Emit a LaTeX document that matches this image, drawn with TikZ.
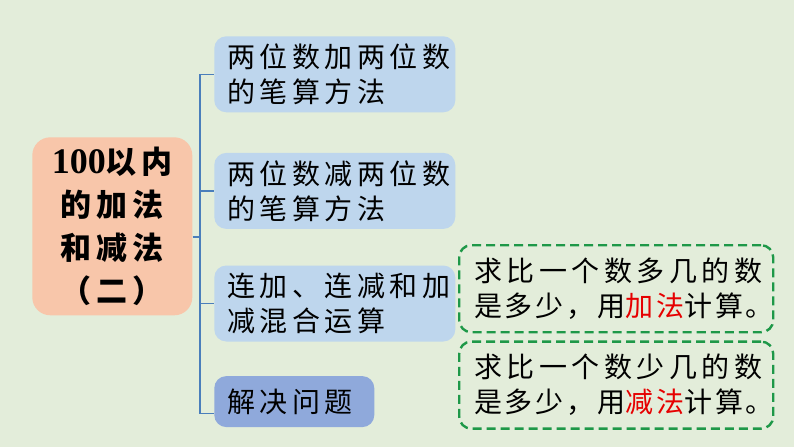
\documentclass[tikz,border=0pt]{standalone}
\usepackage{fontspec}
\usepackage{tikz}
\usetikzlibrary{positioning}
\newfontfamily\kai[LetterSpace=16]{Noto Sans CJK SC}
\newfontfamily\kaitight[LetterSpace=10]{Noto Sans CJK SC}
\newfontfamily\digits{Liberation Serif}
\definecolor{bggreen}{RGB}{227,237,218}
\definecolor{rootpeach}{RGB}{248,198,170}
\definecolor{leafblue}{RGB}{190,214,237}
\definecolor{leafdeep}{RGB}{143,169,219}
\definecolor{linkblue}{RGB}{74,126,187}
\definecolor{dashgreen}{RGB}{30,152,72}
\definecolor{hotred}{RGB}{230,0,0}

\begin{document}
\begin{tikzpicture}[x=1pt,y=-1pt,semithick]
  \tikzstyle{leaf}=[rounded corners=12pt,fill=leafblue,anchor=north west,
                    minimum width=241pt,minimum height=76pt,text width=215pt,
                    inner xsep=13pt,align=left,font=\kai\fontsize{28}{35}\selectfont]
  \tikzstyle{note}=[draw=dashgreen,line width=2.4pt,dash pattern=on 9pt off 5pt,
                    rounded corners=12pt,anchor=north west,minimum width=314pt,
                    minimum height=87pt,text width=284pt,inner xsep=15pt,align=left,
                    font=\kai\fontsize{28}{35}\selectfont]
  \tikzstyle{link}=[draw=linkblue,line width=1.4pt]

  \fill[bggreen] (0,0) rectangle (794,447);
  \useasboundingbox (0,0) rectangle (794,447);

  \node[rounded corners=18pt,fill=rootpeach,anchor=north west,minimum width=160pt,
        minimum height=178pt,align=center,inner sep=0pt,
        font=\kai\bfseries\fontsize{31}{43}\selectfont] (root) at (32,137)
        {{\digits\fontsize{36}{43}\selectfont 100}以内\\的加法\\和减法\\（二）};

  \node[leaf]                     (sumTwo) at (214,36) {两位数加两位数\\的笔算方法};
  \node[leaf,below=40pt of sumTwo] (subTwo)            {两位数减两位数\\的笔算方法};
  \node[leaf,below=36pt of subTwo] (mixed)             {连加、连减和加\\减混合运算};
  \node[leaf,fill=leafdeep,minimum width=160pt,text width=134pt,minimum height=51pt,
        below=34pt of mixed.south west,anchor=north west] (solve) {解决问题};

  \node[note] (moreNote) at (458,244)
        {求比一个数多几的数\\{\kaitight 是多少，用\textcolor{hotred}{加法}计算。}};
  \node[note,below=7pt of moreNote] (lessNote)
        {求比一个数少几的数\\{\kaitight 是多少，用\textcolor{hotred}{减法}计算。}};

  \coordinate (hub) at (200,237);
  \draw[link] (root.east |- hub) -- (hub);
  \draw[link] (hub) |- (sumTwo.west);
  \draw[link] (hub) |- (subTwo.west);
  \draw[link] (hub) |- (mixed.west);
  \draw[link] (hub) |- ([yshift=-12pt]solve.west);

\end{tikzpicture}
\end{document}
